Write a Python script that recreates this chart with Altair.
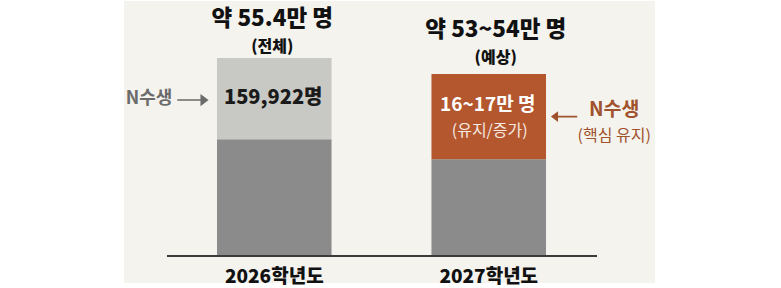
import altair as alt
import pandas as pd

# ---- data (bar heights, in chart units ≈ 만 명) ----
categories = ["2026학년도", "2027학년도"]
base_values = [32.7, 27.1]          # lower (non-N수생) segment
n_values = [22.7, 23.8]             # N수생 segment
total_labels = ["약 55.4만 명", "약 53~54만 명"]
total_sublabels = ["(전체)", "(예상)"]
n_labels = ["159,922명", "16~17만 명"]
n_sublabels = ["", "(유지/증가)"]
side_labels = ["N수생", "N수생"]
side_sublabels = ["", "(핵심 유지)"]

FONT = "Noto Sans CJK KR"
BG = "#f4f3ee"
GRAY_DARK = "#8b8b8b"
GRAY_LIGHT = "#c8c8c4"
RUST = "#b4572f"
RUST_TEXT = "#a0522d"

df = pd.DataFrame({
    "category": categories,
    "base": base_values,
    "n": n_values,
    "title": total_labels,
    "subtitle": total_sublabels,
    "nlabel": n_labels,
    "nsub": n_sublabels,
    "side": side_labels,
    "sideSub": side_sublabels,
})
df["total"] = df["base"] + df["n"]
df["mid"] = df["base"] + df["n"] / 2
df["zero"] = 0.0

seg_rows = []
for i, c in enumerate(categories):
    seg_rows.append({"category": c, "seg": "base", "y0": 0.0, "y1": base_values[i]})
    seg_rows.append({"category": c, "seg": f"n{i}", "y0": base_values[i],
                     "y1": base_values[i] + n_values[i]})
seg = pd.DataFrame(seg_rows)

xscale = alt.Scale(domain=categories, range=[217, 546], paddingInner=0.466, paddingOuter=0)
yscale = alt.Scale(domain=[0, 55.4], range=[256, 58], nice=False, zero=True)
X = alt.X("category:N", scale=xscale, axis=None)


def Y(field):
    return alt.Y(f"{field}:Q", scale=yscale, axis=None)


panel = alt.Chart(pd.DataFrame({"a": [0]})).mark_rect(color=BG).encode(
    x=alt.value(124), x2=alt.value(655), y=alt.value(1), y2=alt.value(283)
)

bars = alt.Chart(seg).mark_bar().encode(
    x=X,
    y=Y("y0"),
    y2="y1:Q",
    color=alt.Color("seg:N", scale=alt.Scale(domain=["base", "n0", "n1"],
                                             range=[GRAY_DARK, GRAY_LIGHT, RUST]),
                    legend=None),
)

baseline = alt.Chart(df.iloc[[0]]).mark_rule(color="#3a3a3a", strokeWidth=2).encode(
    x=alt.value(167), x2=alt.value(597), y=Y("zero")
)

layers = [panel, bars, baseline]

# titles above bars
title_dy = [(-39, -11, -2), (-44.5, -16.5, 7)]
for i in range(2):
    row = alt.Chart(df.iloc[[i]])
    d_main, d_sub, dx = title_dy[i]
    layers.append(row.mark_text(font=FONT, fontSize=22.5, fontWeight=900, color="#111111",
                                dy=d_main, dx=dx, baseline="middle").encode(x=X, y=Y("total"), text="title:N"))
    layers.append(row.mark_text(font=FONT, fontSize=16, fontWeight=900, color="#111111",
                                dy=d_sub, dx=dx, baseline="middle").encode(x=X, y=Y("total"), text="subtitle:N"))

# category labels below baseline
layers.append(alt.Chart(df).mark_text(font=FONT, fontSize=19, fontWeight=900, color="#111111",
                                      dy=20.5, baseline="middle").encode(x=X, y=Y("zero"), text="category:N"))

r0 = alt.Chart(df.iloc[[0]])
r1 = alt.Chart(df.iloc[[1]])

ARROW_R = "M-1,0L0.6,0M0.6,-0.3L1,0L0.6,0.3Z"
ARROW_L = "M1,0L-0.6,0M-0.6,-0.3L-1,0L-0.6,0.3Z"

# 2026 annotations
layers.append(r0.mark_text(font=FONT, fontSize=20, fontWeight=900, color="#1a1a1a",
                           dy=-0.5, dx=-1, baseline="middle").encode(x=X, y=Y("mid"), text="nlabel:N"))
layers.append(r0.mark_text(font=FONT, fontSize=18, fontWeight="bold", color="#6b6b6b",
                           align="right", dx=-102, dy=0, baseline="middle").encode(x=X, y=Y("mid"), text="side:N"))
layers.append(r0.mark_point(shape=ARROW_R, filled=True, fill="#6b6b6b", stroke="#6b6b6b",
                            strokeWidth=1.6, size=900, opacity=1,
                            xOffset=-82, yOffset=1.5).encode(x=X, y=Y("mid")))

# 2027 annotations
layers.append(r1.mark_text(font=FONT, fontSize=19, fontWeight="bold", color="#ffffff",
                           dy=-11.5, dx=-1, baseline="middle").encode(x=X, y=Y("mid"), text="nlabel:N"))
layers.append(r1.mark_text(font=FONT, fontSize=16, color="#f6e9e0",
                           dy=14, dx=1, baseline="middle").encode(x=X, y=Y("mid"), text="nsub:N"))
layers.append(r1.mark_text(font=FONT, fontSize=19.5, fontWeight="bold", color=RUST_TEXT,
                           dx=125.5, dy=-6.5, baseline="middle").encode(x=X, y=Y("mid"), text="side:N"))
layers.append(r1.mark_text(font=FONT, fontSize=16, color=RUST_TEXT,
                           dx=125.5, dy=19.5, baseline="middle").encode(x=X, y=Y("mid"), text="sideSub:N"))
layers.append(r1.mark_point(shape=ARROW_L, filled=True, fill=RUST_TEXT, stroke=RUST_TEXT,
                            strokeWidth=1.6, size=625, opacity=1,
                            xOffset=76, yOffset=0).encode(x=X, y=Y("mid")))

chart = alt.layer(*layers).properties(
    width=781, height=288, autosize=alt.AutoSizeParams(type="none"), padding=0,
    background="#ffffff",
).configure_view(stroke=None, fill="#ffffff")

chart.save("out.html", embed_options={"renderer": "svg", "actions": False})
